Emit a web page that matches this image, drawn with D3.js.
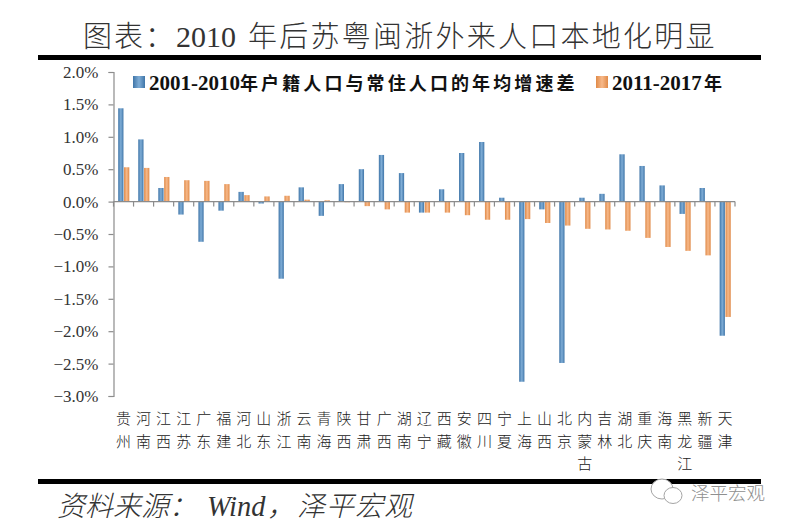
<!DOCTYPE html>
<html><head><meta charset="utf-8">
<script src="https://cdnjs.cloudflare.com/ajax/libs/d3/7.8.5/d3.min.js"></script>
<style>html,body{margin:0;padding:0;background:#fff}svg{display:block}</style></head>
<body><svg id="c" width="791" height="527"></svg>
<script>
const provinces=["贵州","河南","江西","江苏","广东","福建","河北","山东","浙江","云南","青海","陕西","甘肃","广西","湖南","辽宁","西藏","安徽","四川","宁夏","上海","山西","北京","内蒙古","吉林","湖北","重庆","海南","黑龙江","新疆","天津"];
const series1=[1.44,.96,.21,-.20,-.62,-.14,.15,-.03,-1.19,.22,-.22,.27,.50,.72,.44,-.17,.19,.75,.92,.06,-2.78,-.12,-2.49,.06,.12,.73,.55,.25,-.19,.21,-2.07];
const series2=[.53,.52,.38,.33,.32,.27,.10,.08,.09,.03,.02,-.01,-.07,-.12,-.17,-.17,-.17,-.21,-.28,-.28,-.27,-.33,-.37,-.42,-.43,-.45,-.56,-.70,-.76,-.83,-1.78];
const yTicks=[2,1.5,1,.5,0,-.5,-1,-1.5,-2,-2.5,-3];
const markText="泽平宏观";
const serif='"Liberation Serif","Noto Sans CJK SC",serif';
const cjk='"Noto Sans CJK SC",sans-serif';
const svg=d3.select("#c");
const defs=svg.append("defs");
function grad(id,a,b){const g=defs.append("linearGradient").attr("id",id);
 g.append("stop").attr("offset","0").attr("stop-color",a);
 g.append("stop").attr("offset",".5").attr("stop-color",b);
 g.append("stop").attr("offset","1").attr("stop-color",a);}
grad("gb","#3f75a8","#7fadd6");grad("go","#e08a48","#f7b98a");
const y=d3.scaleLinear().domain([2,-3]).range([72,396]);
const x=d3.scaleBand().domain(provinces).range([113.5,735]);
const inner=d3.scaleBand().domain([0,1]).range([4.7,15.8]).paddingInner(.1);
function mixed(px,py,parts,opts){
 const t=svg.append("text").attr("y",py).attr("fill",opts.fill).attr("font-weight",opts.weight).attr("font-style",opts.italic?"italic":null);
 parts.forEach(p=>{t.append("tspan").attr("x",p.x).attr("font-family",p.latin?'"Liberation Serif",serif':cjk)
  .attr("font-size",p.size).attr("letter-spacing",p.ls||0).text(p.text);});
}
// rules
svg.append("rect").attr("x",38).attr("y",55).attr("width",723).attr("height",5).attr("fill","#000");
svg.append("rect").attr("x",38).attr("y",479).attr("width",723).attr("height",5).attr("fill","#000");
// title
mixed(0,47,[
 {x:83,text:"图表：",size:29,ls:2},
 {x:176,text:"2010",size:30,latin:true},
 {x:248,text:"年后苏粤闽浙外来人口本地化明显",size:29,ls:2.25}],{fill:"#333",weight:300});
// source
mixed(0,516,[
 {x:57,text:"资料来源：",size:28},
 {x:207,text:"Wind",size:28.4,latin:true},
 {x:267,text:"，",size:28},
 {x:297,text:"泽平宏观",size:28,ls:1}],{fill:"#333",weight:300,italic:true});
// axes
const yAxis=d3.axisLeft(y).tickValues(yTicks).tickSize(5).tickPadding(10).tickFormat(d=>d3.format(".1f")(d)+"%");
const gy=svg.append("g").attr("transform","translate(113.5,0)").call(yAxis);
gy.selectAll("path,line").attr("stroke","#8c8c8c").attr("stroke-width",1.2);
gy.selectAll("text").attr("font-family",serif).attr("font-size",17).attr("fill","#333");
// bars
[[series1,"url(#gb)"],[series2,"url(#go)"]].forEach(([vals,fill],s)=>{
 svg.append("g").selectAll("rect").data(vals).join("rect")
  .attr("x",(d,i)=>x(provinces[i])+inner(s)).attr("width",inner.bandwidth())
  .attr("y",d=>y(Math.max(0,d))).attr("height",d=>Math.abs(y(d)-y(0))).attr("fill",fill);
});
const gx=svg.append("g").attr("transform",`translate(0,${y(0)})`);
gx.append("line").attr("x1",x.range()[0]).attr("x2",x.range()[1]).attr("stroke","#8c8c8c").attr("stroke-width",1.2);
gx.selectAll("line.t").data(provinces.map(p=>x(p)).concat(x.range()[1])).join("line").attr("class","t")
 .attr("x1",d=>d).attr("x2",d=>d).attr("y1",0).attr("y2",5).attr("stroke","#8c8c8c").attr("stroke-width",1.2);
// category labels, one character per row
const gl=svg.append("g");
provinces.forEach(p=>{Array.from(p).forEach((ch,j)=>{
 gl.append("text").attr("x",x(p)+x.bandwidth()/2).attr("y",424+j*22.5).attr("text-anchor","middle")
  .attr("font-family",cjk).attr("font-size",15).attr("font-weight",300).attr("fill","#222").text(ch);
});});
// legend
svg.append("rect").attr("x",133).attr("y",76).attr("width",12).attr("height",12).attr("fill","url(#gb)");
mixed(0,90,[
 {x:149,text:"2001-2010",size:21,latin:true},
 {x:240,text:"年户籍人口与常住人口的年均增速差",size:18,ls:3.1}],{fill:"#111",weight:700});
svg.append("rect").attr("x",596).attr("y",76).attr("width",12).attr("height",12).attr("fill","url(#go)");
mixed(0,90,[
 {x:612,text:"2011-2017",size:21,latin:true},
 {x:704,text:"年",size:18}],{fill:"#111",weight:700});
// watermark
const m=svg.append("g").attr("fill","#fff").attr("stroke","#a5a5a5").attr("stroke-width",1);
m.append("ellipse").attr("cx",662).attr("cy",489).attr("rx",11).attr("ry",10);
m.append("ellipse").attr("cx",673).attr("cy",495.5).attr("rx",9).attr("ry",8);
svg.append("text").attr("x",691).attr("y",500).attr("font-family",cjk).attr("font-size",18.5).attr("font-weight",300).attr("fill","#8f8f8f").text(markText);
</script></body></html>
